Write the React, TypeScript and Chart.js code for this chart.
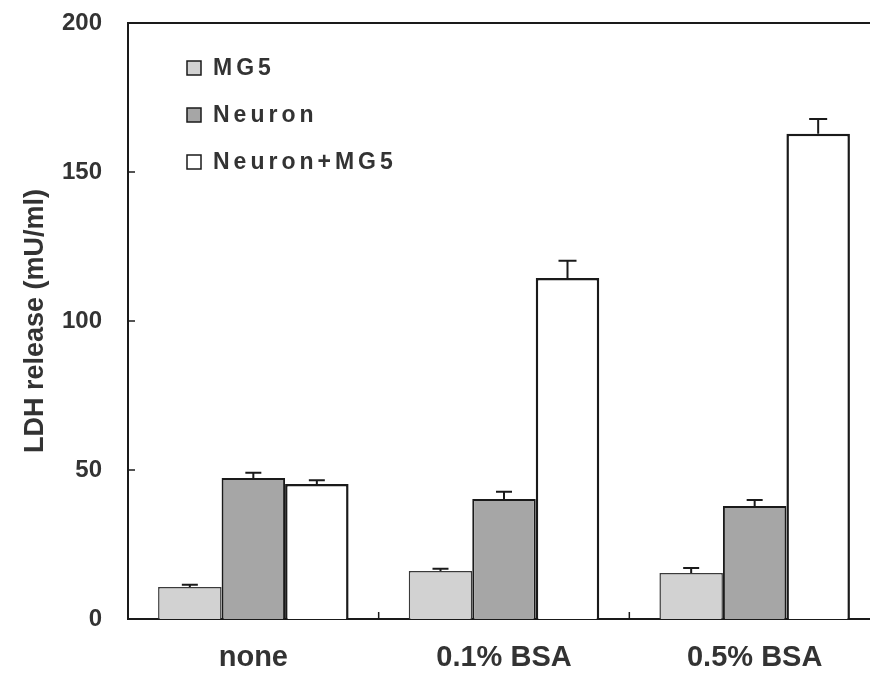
import React, { useEffect, useRef } from 'react';
import { Chart, registerables } from 'chart.js';

Chart.register(...registerables);

const categories = ['none', '0.1% BSA', '0.5% BSA'];
const seriesNames = ['MG5', 'Neuron', 'Neuron+MG5'];
const mg5 = [10.7, 16.1, 15.4];
const mg5Err = [0.8, 0.8, 1.7];
const neuron = [47.3, 40.3, 37.9];
const neuronErr = [1.8, 2.4, 2.0];
const combo = [45.3, 114.4, 162.8];
const comboErr = [1.3, 5.8, 5.0];
const yTicks = [0, 50, 100, 150, 200];
const yTitle = 'LDH release (mU/ml)';

const FONT = '"Liberation Sans", Arial, Helvetica, sans-serif';
const TEXT = '#333333';
const INK = '#1a1a1a';

export default function App() {
  const ref = useRef<HTMLCanvasElement>(null);

  useEffect(() => {
    const errors = [mg5Err, neuronErr, comboErr];

    const errorBars = {
      id: 'errorBars',
      afterDatasetsDraw(chart: any) {
        const ctx = chart.ctx;
        const y = chart.scales.y;
        ctx.save();
        ctx.strokeStyle = INK;
        ctx.lineWidth = 2;
        chart.data.datasets.forEach((ds: any, i: number) => {
          const meta = chart.getDatasetMeta(i);
          meta.data.forEach((el: any, j: number) => {
            const v = ds.data[j];
            const e = errors[i][j];
            const yTop = y.getPixelForValue(v + e);
            const yBase = el.y;
            const half = e > 3 ? 9 : 8;
            ctx.beginPath();
            ctx.moveTo(el.x, yBase);
            ctx.lineTo(el.x, yTop);
            ctx.moveTo(el.x - half, yTop);
            ctx.lineTo(el.x + half, yTop);
            ctx.stroke();
          });
        });
        ctx.restore();
      },
    };

    const decor = {
      id: 'decor',
      afterDraw(chart: any) {
        const ctx = chart.ctx;
        const { left, right, top, bottom } = chart.chartArea;
        const xs = chart.scales.x;
        const ys = chart.scales.y;
        ctx.save();
        ctx.strokeStyle = INK;
        ctx.lineWidth = 2;
        // top frame line
        ctx.beginPath();
        ctx.moveTo(left - 1, top);
        ctx.lineTo(right + 10, top);
        ctx.stroke();
        // inward y ticks
        ctx.lineWidth = 1.5;
        yTicks.slice(1, -1).forEach((t) => {
          const py = ys.getPixelForValue(t);
          ctx.beginPath();
          ctx.moveTo(left, py);
          ctx.lineTo(left + 7, py);
          ctx.stroke();
        });
        // inward x ticks between categories
        for (let j = 0; j < categories.length - 1; j++) {
          const px = (xs.getPixelForValue(j) + xs.getPixelForValue(j + 1)) / 2;
          ctx.beginPath();
          ctx.moveTo(px, bottom);
          ctx.lineTo(px, bottom - 7);
          ctx.stroke();
        }
        // legend
        const rowGap = 47;
        chart.data.datasets.forEach((ds: any, i: number) => {
          const cy = top + 45 + i * rowGap;
          const bx = left + 59;
          ctx.fillStyle = ds.backgroundColor;
          ctx.fillRect(bx, cy - 7, 14, 14);
          ctx.strokeStyle = INK;
          ctx.lineWidth = 1.5;
          ctx.strokeRect(bx, cy - 7, 14, 14);
          ctx.fillStyle = TEXT;
          ctx.font = `bold 23px ${FONT}`;
          ctx.textAlign = 'left';
          ctx.textBaseline = 'middle';
          (ctx as any).letterSpacing = '4px';
          ctx.fillText(ds.label, bx + 26, cy + 1);
          (ctx as any).letterSpacing = '0px';
        });
        ctx.restore();
      },
    };

    const chart = new Chart(ref.current!, {
      type: 'bar',
      data: {
        labels: categories,
        datasets: [
          {
            label: seriesNames[0],
            data: mg5,
            backgroundColor: '#d2d2d2',
            borderColor: '#3a3a3a',
            borderWidth: 1.5,
          },
          {
            label: seriesNames[1],
            data: neuron,
            backgroundColor: '#a6a6a6',
            borderColor: INK,
            borderWidth: 2,
          },
          {
            label: seriesNames[2],
            data: combo,
            backgroundColor: '#ffffff',
            borderColor: INK,
            borderWidth: 2.5,
          },
        ],
      },
      options: {
        responsive: false,
        animation: false,
        layout: { autoPadding: false, padding: { top: 23, right: 2, left: 0, bottom: 0 } },
        plugins: {
          legend: { display: false },
          tooltip: { enabled: false },
        },
        datasets: {
          bar: { categoryPercentage: 0.76, barPercentage: 1.0 },
        },
        scales: {
          x: {
            grid: { display: false, drawTicks: false },
            border: { display: true, color: INK, width: 2 },
            ticks: {
              color: TEXT,
              padding: 22,
              font: { family: FONT, size: 29, weight: 'bold' },
            },
            afterFit(scale: any) {
              scale.height = 59;
              scale.paddingLeft = 0;
              scale.paddingRight = 0;
            },
          },
          y: {
            min: 0,
            max: 200,
            afterBuildTicks(scale: any) {
              scale.ticks = yTicks.map((v) => ({ value: v }));
            },
            grid: { display: false, drawTicks: false },
            border: { display: true, color: INK, width: 2 },
            ticks: {
              color: TEXT,
              padding: 26,
              font: { family: FONT, size: 24, weight: 'bold' },
            },
            title: {
              display: true,
              text: yTitle,
              color: TEXT,
              padding: { top: 19, bottom: 0 },
              font: { family: FONT, size: 27, weight: 'bold' },
            },
            afterFit(scale: any) {
              scale.width = 128;
              scale.paddingTop = 0;
              scale.paddingBottom = 0;
            },
          },
        },
      },
      plugins: [errorBars, decor],
    });

    return () => chart.destroy();
  }, []);

  return (
    <div
      style={{
        position: 'fixed',
        left: 0,
        top: 0,
        width: 870,
        height: 678,
        overflow: 'hidden',
        background: '#ffffff',
      }}
    >
      <canvas ref={ref} width={882} height={678} style={{ display: 'block' }} />
    </div>
  );
}
